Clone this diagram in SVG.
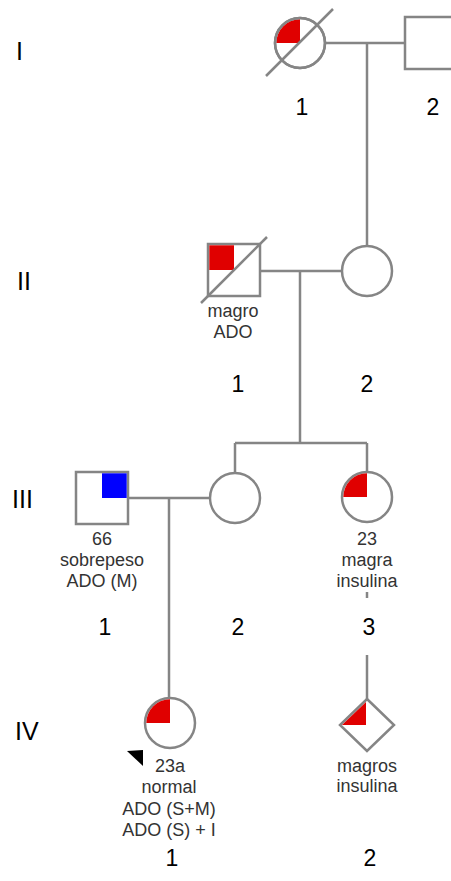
<svg xmlns="http://www.w3.org/2000/svg" width="451" height="881" viewBox="0 0 451 881">
  <style>
    .sym { fill: #ffffff; stroke: #858585; stroke-width: 2.5; }
    .line { fill: none; stroke: #858585; stroke-width: 2.5; }
    .red { fill: #e00000; stroke: none; }
    .blue { fill: #0000ff; stroke: none; }
    .gen { font-family: "Liberation Sans", Arial, sans-serif; font-size: 25px; fill: #000000; }
    .num { font-family: "Liberation Sans", Arial, sans-serif; font-size: 23px; fill: #000000; text-anchor: middle; }
    .note { font-family: "Liberation Sans", Arial, sans-serif; font-size: 18px; fill: #333333; text-anchor: middle; }
  </style>

  <!-- generation numerals -->
  <g id="generations">
    <text class="gen" x="16" y="60">I</text>
    <text class="gen" x="17" y="290">II</text>
    <text class="gen" x="12" y="508">III</text>
    <text class="gen" x="15" y="740">IV</text>
  </g>

  <!-- connectors -->
  <g id="connectors">
    <!-- I-1 x I-2 -->
    <line class="line" x1="325" y1="43" x2="405" y2="43"/>
    <line class="line" x1="367" y1="43" x2="367" y2="246"/>
    <!-- II-1 x II-2 -->
    <line class="line" x1="260" y1="271" x2="342" y2="271"/>
    <line class="line" x1="300" y1="271" x2="300" y2="443"/>
    <!-- sibship III -->
    <line class="line" x1="235" y1="443" x2="367" y2="443"/>
    <line class="line" x1="235" y1="443" x2="235" y2="473"/>
    <line class="line" x1="367" y1="443" x2="367" y2="472"/>
    <!-- III-1 x III-2 -->
    <line class="line" x1="128" y1="498" x2="210" y2="498"/>
    <line class="line" x1="169" y1="498" x2="169" y2="698"/>
    <!-- III-3 to IV-2 -->
    <line class="line" x1="367" y1="592" x2="367" y2="598"/>
    <line class="line" x1="367" y1="655" x2="367" y2="699"/>
  </g>

  <!-- I-1: deceased female, affected quarter -->
  <g id="I-1">
    <circle class="sym" cx="300" cy="43" r="25"/>
    <path class="red" d="M300,43 L276.3,43 A23.7,23.7 0 0 1 300,19.3 Z"/>
    <circle class="line" cx="300" cy="43" r="25"/>
    <line class="line" x1="266" y1="76" x2="333" y2="9"/>
    <text class="num" x="302" y="115">1</text>
  </g>

  <!-- I-2: male -->
  <g id="I-2">
    <rect class="sym" x="405" y="17" width="52" height="52"/>
    <text class="num" x="433" y="115">2</text>
  </g>

  <!-- II-1: deceased male, affected quarter -->
  <g id="II-1">
    <rect class="sym" x="208" y="244" width="52" height="52"/>
    <rect class="red" x="209.3" y="245.3" width="24.7" height="24.7"/>
    <line class="line" x1="201" y1="303" x2="267" y2="237"/>
    <text class="note" x="233" y="317">magro</text>
    <text class="note" x="233" y="338">ADO</text>
    <text class="num" x="238" y="392">1</text>
  </g>

  <!-- II-2: female -->
  <g id="II-2">
    <circle class="sym" cx="367" cy="271" r="25"/>
    <text class="num" x="367" y="392">2</text>
  </g>

  <!-- III-1: male, blue quarter -->
  <g id="III-1">
    <rect class="sym" x="76" y="472" width="52" height="52"/>
    <rect class="blue" x="102" y="473.3" width="24.7" height="24.7"/>
    <text class="note" x="102" y="545">66</text>
    <text class="note" x="102" y="566">sobrepeso</text>
    <text class="note" x="102" y="587">ADO (M)</text>
    <text class="num" x="105" y="635">1</text>
  </g>

  <!-- III-2: female -->
  <g id="III-2">
    <circle class="sym" cx="235" cy="498" r="25"/>
    <text class="num" x="238" y="635">2</text>
  </g>

  <!-- III-3: female, affected quarter -->
  <g id="III-3">
    <circle class="sym" cx="367" cy="497" r="25"/>
    <path class="red" d="M367,497 L343.3,497 A23.7,23.7 0 0 1 367,473.3 Z"/>
    <text class="note" x="367" y="545">23</text>
    <text class="note" x="367" y="566">magra</text>
    <text class="note" x="367" y="587">insulina</text>
    <text class="num" x="369" y="635">3</text>
  </g>

  <!-- IV-1: proband, female, affected quarter -->
  <g id="IV-1">
    <circle class="sym" cx="170" cy="723" r="25"/>
    <path class="red" d="M170,723 L146.3,723 A23.7,23.7 0 0 1 170,699.3 Z"/>
    <polygon points="127,751 143,750 143,766" fill="#000000"/>
    <text class="note" x="170" y="772">23a</text>
    <text class="note" x="169" y="793">normal</text>
    <text class="note" x="169" y="815">ADO (S+M)</text>
    <text class="note" x="169" y="836">ADO (S) + I</text>
    <text class="num" x="172" y="866">1</text>
  </g>

  <!-- IV-2: unknown sex, affected quarter -->
  <g id="IV-2">
    <polygon class="sym" points="367,699 394,725 367,751 340,725"/>
    <polygon class="red" points="342,725 366,702 366,725"/>
    <text class="note" x="367" y="772">magros</text>
    <text class="note" x="367" y="792">insulina</text>
    <text class="num" x="370" y="866">2</text>
  </g>
</svg>
